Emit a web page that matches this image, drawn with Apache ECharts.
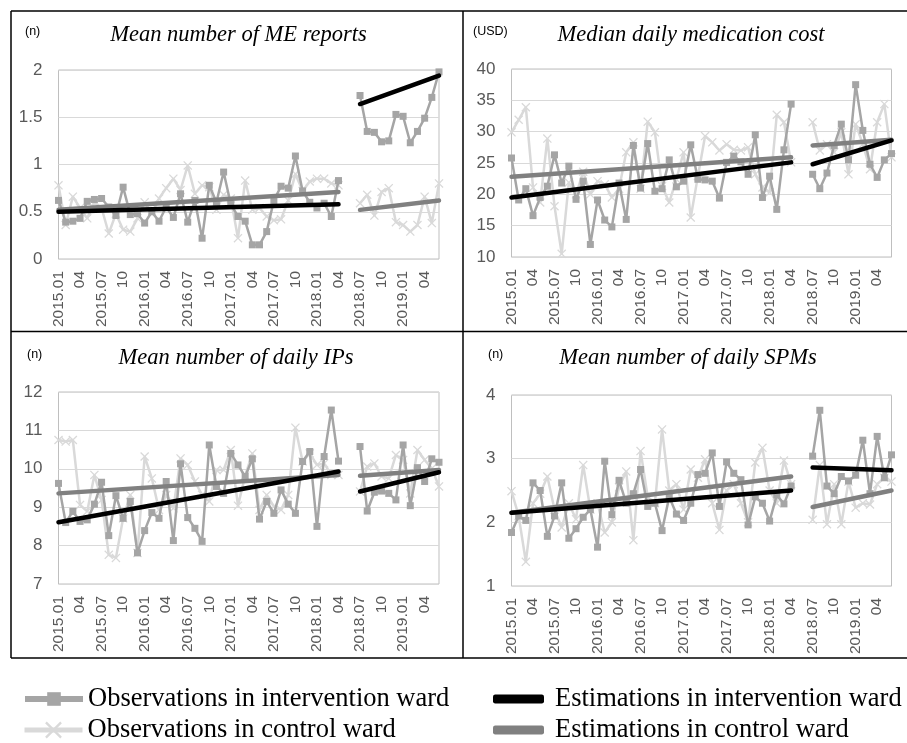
<!DOCTYPE html>
<html>
<head>
<meta charset="utf-8">
<script src="https://cdn.jsdelivr.net/npm/echarts@6/dist/echarts.min.js"></script>
<style>
html,body{margin:0;padding:0;background:#fff;}
#c{width:907px;height:743px;}
</style>
</head>
<body>
<div id="c"></div>
<script>
// ---------- categories ----------
const months = [
 '2015.01','2015.02','2015.03','2015.04','2015.05','2015.06','2015.07','2015.08','2015.09','2015.10','2015.11','2015.12',
 '2016.01','2016.02','2016.03','2016.04','2016.05','2016.06','2016.07','2016.08','2016.09','2016.10','2016.11','2016.12',
 '2017.01','2017.02','2017.03','2017.04','2017.05','2017.06','2017.07','2017.08','2017.09','2017.10','2017.11','2017.12',
 '2018.01','2018.02','2018.03','2018.04','2018.05','2018.06','2018.07','2018.08','2018.09','2018.10','2018.11','2018.12',
 '2019.01','2019.02','2019.03','2019.04','2019.05','2019.06'
];
// estimation segments: pre (2015.01-2018.04), post (2018.07-2019.06)
const segPre = ['2015.01','2018.04'];
const segPost = ['2018.07','2019.06'];

// ---------- Panel 1: Mean number of ME reports ----------
const meInt = [0.62,0.39,0.40,0.43,0.61,0.63,0.64,0.55,0.46,0.76,0.47,0.48,0.38,0.50,0.40,0.55,0.44,0.69,0.39,0.62,0.22,0.78,0.60,0.92,0.58,0.45,0.40,0.15,0.15,0.29,0.62,0.77,0.75,1.09,0.72,0.60,0.54,0.59,0.45,0.83,null,null,1.73,1.35,1.34,1.24,1.25,1.53,1.51,1.23,1.35,1.49,1.71,1.98];
const meCtrl = [0.78,0.36,0.66,0.54,0.43,0.60,0.54,0.27,0.48,0.31,0.29,0.43,0.60,0.48,0.64,0.75,0.85,0.73,0.99,0.69,0.78,0.76,0.52,0.68,0.64,0.22,0.83,0.52,0.54,0.45,0.41,0.42,0.62,0.90,0.72,0.82,0.85,0.85,0.80,0.78,null,null,0.59,0.68,0.46,0.71,0.75,0.39,0.36,0.29,0.36,0.66,0.38,0.80];
const meEstInt = [0.50,0.58,1.64,1.94];
const meEstCtrl = [0.52,0.71,0.52,0.62];

// ---------- Panel 2: Median daily medication cost ----------
const costInt = [25.8,19.1,20.9,16.6,19.5,21.3,26.3,21.8,24.5,19.2,22.1,12.0,19.1,15.9,14.8,21.8,16.0,27.8,21.0,28.1,20.5,20.9,25.5,21.2,22.1,27.9,22.4,22.3,22.1,19.4,25.1,26.1,25.2,23.2,29.5,19.5,22.9,17.6,27.1,34.4,null,null,23.2,20.9,23.4,27.8,31.2,25.5,37.5,30.2,24.8,22.7,25.5,26.5];
const costCtrl = [29.9,31.9,33.9,21.1,18.7,28.9,18.1,10.5,21.9,20.0,23.6,20.0,22.1,21.6,19.5,20.9,26.7,28.3,20.9,31.6,29.9,21.3,18.7,22.4,26.7,16.3,22.9,29.3,28.3,27.0,28.0,27.1,27.0,27.5,23.2,21.1,20.3,32.7,31.5,25.1,null,null,31.5,27.0,28.0,26.7,29.9,23.2,31.2,28.0,24.0,31.5,34.4,25.9];
const costEstInt = [19.5,25.1,24.8,28.6];
const costEstCtrl = [22.8,25.9,27.8,28.7];

// ---------- Panel 3: Mean number of daily IPs ----------
const ipInt = [9.62,8.60,8.89,8.63,8.67,9.08,9.65,8.26,9.30,8.71,9.15,7.81,8.39,8.86,8.71,9.67,8.13,10.13,8.73,8.45,8.11,10.62,9.54,9.36,10.40,10.10,9.80,10.26,8.69,9.15,8.84,9.45,9.08,8.84,10.19,10.45,8.50,10.32,11.53,10.20,null,null,10.58,8.90,9.39,9.42,9.36,9.19,10.62,9.04,10.03,9.67,10.26,10.17];
const ipCtrl = [10.75,10.71,10.75,9.06,8.89,9.84,9.19,7.76,7.68,8.71,9.32,7.81,10.32,9.75,8.93,9.32,8.97,10.27,10.10,9.67,9.32,9.15,9.97,9.97,10.49,9.04,9.82,10.40,8.93,9.32,9.02,8.93,9.32,11.07,10.19,10.40,10.10,10.14,9.84,9.84,null,null,9.41,10.06,10.14,9.80,9.75,10.36,10.23,9.36,10.49,10.23,10.01,9.54];
const ipEstInt = [8.61,9.93,9.41,9.91];
const ipEstCtrl = [9.36,9.84,9.82,9.97];

// ---------- Panel 4: Mean number of daily SPMs ----------
const spmInt = [1.84,2.10,2.03,2.62,2.50,1.78,2.10,2.62,1.75,1.90,2.08,2.20,1.61,2.96,2.12,2.66,2.30,2.45,2.83,2.25,2.30,1.87,2.40,2.13,2.03,2.30,2.75,2.77,3.09,2.25,2.95,2.77,2.67,1.96,2.40,2.30,2.02,2.43,2.29,2.57,null,null,3.04,3.76,2.57,2.45,2.72,2.65,2.74,3.29,2.45,3.35,2.70,3.06];
const spmCtrl = [2.49,2.10,1.38,2.30,2.45,2.72,2.20,1.92,2.30,2.05,2.90,2.20,2.30,1.84,2.00,2.55,2.80,1.72,3.12,2.40,2.30,3.46,2.50,2.60,2.20,2.83,2.70,2.99,2.30,1.88,2.50,2.60,2.30,2.00,2.94,3.17,2.50,2.30,2.97,2.60,null,null,2.04,2.90,1.97,2.60,1.97,2.64,2.23,2.30,2.28,2.60,2.70,2.64];
const spmEstInt = [2.15,2.50,2.86,2.82];
const spmEstCtrl = [2.15,2.72,2.24,2.50];

// ---------- titles / axes ----------
const panelTitles = ['Mean number of ME reports','Median daily medication cost','Mean number of daily IPs','Mean number of daily SPMs'];
const panelUnits = ['(n)','(USD)','(n)','(n)'];
const yMin = [0,10,7,1];
const yMax = [2,40,12,4];
const yStep = [0.5,5,1,1];

const NAME_OI = 'Observations in intervention ward';
const NAME_OC = 'Observations in control ward';
const NAME_EI = 'Estimations in intervention ward';
const NAME_EC = 'Estimations in control ward';

const panels = [
  {obsI: meInt, obsC: meCtrl, estI: meEstInt, estC: meEstCtrl},
  {obsI: costInt, obsC: costCtrl, estI: costEstInt, estC: costEstCtrl},
  {obsI: ipInt, obsC: ipCtrl, estI: ipEstInt, estC: ipEstCtrl},
  {obsI: spmInt, obsC: spmCtrl, estI: spmEstInt, estC: spmEstCtrl}
];

// layout
const gridPos = [
  {left: 58.5, top: 70, width: 380.5, height: 189},
  {left: 511.5, top: 69, width: 380, height: 188},
  {left: 58.5, top: 392, width: 380.5, height: 192},
  {left: 511.5, top: 395, width: 380, height: 191}
];
const titlePos = [[238.5,35],[691,35],[236,358],[688,358]];
const unitPos = [[25,32],[473,32],[27,355],[488,355]];

const X_SYMBOL = 'path://M1,0 L5,4 L9,0 L10,1 L6,5 L10,9 L9,10 L5,6 L1,10 L0,9 L4,5 L0,1 Z';
const COL_I = '#a5a5a5', COL_C = '#d9d9d9', COL_EI = '#000000', COL_EC = '#808080';
const AX_FONT = 'Liberation Sans';

const grids = [], xAxes = [], yAxes = [], series = [];
panels.forEach((p, gi) => {
  grids.push(Object.assign({show: true, borderColor: '#bfbfbf', borderWidth: 1, backgroundColor: 'transparent', containLabel: false}, gridPos[gi]));
  xAxes.push({
    type: 'category', gridIndex: gi, data: months, boundaryGap: false,
    axisLine: {show: false}, axisTick: {show: false}, splitLine: {show: false},
    axisLabel: {
      interval: 2, rotate: 90, margin: 12, fontSize: 15.5, color: '#595959', fontFamily: AX_FONT,
      formatter: v => (v.endsWith('.01') || v.endsWith('.07')) ? v : v.slice(5)
    }
  });
  yAxes.push({
    type: 'value', gridIndex: gi, min: yMin[gi], max: yMax[gi], interval: yStep[gi],
    axisLine: {show: false}, axisTick: {show: false},
    axisLabel: {fontSize: 17, color: '#595959', fontFamily: AX_FONT, margin: 16},
    splitLine: {lineStyle: {color: '#d9d9d9', width: 1}}
  });
  series.push({
    name: NAME_OC, type: 'line', xAxisIndex: gi, yAxisIndex: gi, data: p.obsC,
    symbol: X_SYMBOL, symbolSize: 9, showAllSymbol: true, connectNulls: false,
    itemStyle: {color: COL_C}, lineStyle: {color: COL_C, width: 2.5}, z: 2, animation: false
  });
  series.push({
    name: NAME_OI, type: 'line', xAxisIndex: gi, yAxisIndex: gi, data: p.obsI,
    symbol: 'rect', symbolSize: 7, showAllSymbol: true, connectNulls: false,
    itemStyle: {color: COL_I}, lineStyle: {color: COL_I, width: 2.5}, z: 3, animation: false
  });
  [[NAME_EC, p.estC, COL_EC], [NAME_EI, p.estI, COL_EI]].forEach(([nm, est, col]) => {
    [[segPre, 0], [segPost, 2]].forEach(([seg, k]) => {
      series.push({
        name: nm, type: 'line', xAxisIndex: gi, yAxisIndex: gi,
        data: [[seg[0], est[k]], [seg[1], est[k + 1]]],
        symbol: 'none', itemStyle: {color: col},
        lineStyle: {color: col, width: 4.5, cap: 'round'}, z: 4, animation: false
      });
    });
  });
});

const legendText = {fontFamily: 'Liberation Serif', fontSize: 26.5, color: '#000', lineHeight: 28};
const legends = [
  {data: [{name: NAME_OI, lineStyle: {width: 6}}], left: 22, top: 685, itemWidth: 58, itemHeight: 17},
  {data: [{name: NAME_OC, lineStyle: {width: 5}}], left: 22, top: 716, itemWidth: 58, itemHeight: 21},
  {data: [{name: NAME_EI, icon: 'roundRect'}], left: 493, top: 685, itemWidth: 51, itemHeight: 9},
  {data: [{name: NAME_EC, icon: 'roundRect'}], left: 493, top: 716, itemWidth: 51, itemHeight: 9}
].map(l => Object.assign({orient: 'horizontal', padding: 0, selectedMode: false, textStyle: Object.assign({}, legendText, {padding: l.left > 400 ? [0,0,0,6] : 0})}, l));

const graphics = [];
const B = {stroke: '#000', lineWidth: 1.5};
[[11,11,907,11],[11,11,11,658],[463,11,463,658],[11,331.5,907,331.5],[11,658,907,658]].forEach(s => {
  graphics.push({type: 'line', shape: {x1: s[0], y1: s[1], x2: s[2], y2: s[3]}, style: B, silent: true});
});
panelTitles.forEach((t, i) => {
  graphics.push({type: 'text', x: titlePos[i][0], y: titlePos[i][1],
    style: {text: t, font: 'italic 22.5px "Liberation Serif"', fill: '#000', textAlign: 'center', textVerticalAlign: 'middle'}});
  graphics.push({type: 'text', x: unitPos[i][0], y: unitPos[i][1],
    style: {text: panelUnits[i], font: '12.5px "Liberation Sans"', fill: '#000', textAlign: 'left', textVerticalAlign: 'middle'}});
});

const chart = echarts.init(document.getElementById('c'), null, {renderer: 'canvas'});
chart.setOption({
  animation: false,
  backgroundColor: '#fff',
  grid: grids, xAxis: xAxes, yAxis: yAxes, series: series,
  legend: legends,
  graphic: graphics
});
</script>
</body>
</html>
